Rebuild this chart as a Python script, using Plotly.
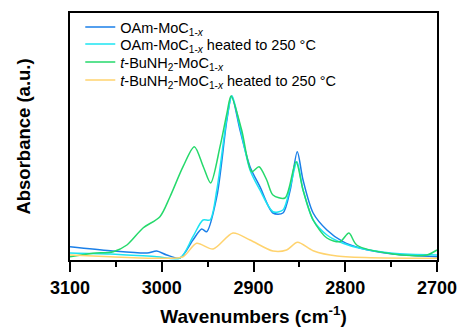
import plotly.graph_objects as go

# OAm-MoC1-x
wn_oam = [3100, 3056, 3016, 3005.5, 2994.6, 2980, 2966, 2956.5, 2951, 2940, 2929, 2923.8, 2914.7, 2903.8, 2893, 2878.8, 2867.9, 2860, 2852.3, 2846, 2835, 2820, 2802.5, 2784, 2748, 2700]
ab_oam = [13.3, 9.3, 7, 9, 5, 2, 20, 31, 28.3, 63.3, 140, 164, 130, 93.3, 73.3, 47, 47, 70, 108.3, 80, 47, 30, 18.3, 12, 6, 3.3]

# OAm-MoC1-x heated to 250 C
wn_oam_h = [3100, 3056, 3005.5, 2980, 2966, 2955, 2947.4, 2940, 2929, 2923.4, 2914.7, 2903.8, 2893, 2878.8, 2867.9, 2860, 2852.6, 2846, 2835, 2820, 2802.5, 2784, 2748, 2700]
ab_oam_h = [7, 6, 3.3, 2, 23.3, 40, 40, 70, 142, 164, 133, 90, 70, 48.3, 50, 73, 98.3, 70, 40, 25, 16.7, 11.7, 6.7, 5]

# t-BuNH2-MoC1-x
wn_tbu = [3100, 3075, 3052.8, 3038, 3020.4, 3002, 2991, 2976.8, 2964.5, 2954.7, 2946.7, 2936.5, 2929, 2924.5, 2912.9, 2902, 2894, 2885.6, 2878.8, 2865.7, 2853.7, 2846, 2835, 2820, 2805.7, 2796, 2787.5, 2748, 2711, 2700]
ab_tbu = [3.3, 6.7, 8.3, 15, 32, 43.3, 63.3, 93.3, 113.3, 93.3, 77, 113.3, 146.7, 164, 130, 88.3, 93.3, 80, 65, 62, 98.3, 70, 40, 22, 18.3, 27, 15, 6, 5, 10]

# t-BuNH2-MoC1-x heated to 250 C
wn_tbu_h = [3100, 3056, 3002, 2976.8, 2962, 2944, 2922.4, 2903.8, 2878.8, 2864, 2852, 2835, 2809, 2700]
ab_tbu_h = [5, 3.3, 1.7, 3.3, 16.7, 11, 27, 20, 9, 10, 17.7, 9.3, 4, 1.7]

names = [
    "OAm-MoC<sub>1-<i>x</i></sub>",
    "OAm-MoC<sub>1-<i>x</i></sub> heated to 250 °C",
    "<i>t</i>-BuNH<sub>2</sub>-MoC<sub>1-<i>x</i></sub>",
    "<i>t</i>-BuNH<sub>2</sub>-MoC<sub>1-<i>x</i></sub> heated to 250 °C",
]
colors = ["#1a7fe8", "#1de4f2", "#25d96b", "#ffd36e"]
series = [(wn_oam, ab_oam), (wn_oam_h, ab_oam_h), (wn_tbu, ab_tbu), (wn_tbu_h, ab_tbu_h)]

tick_vals = [3100, 3000, 2900, 2800, 2700]
tick_text = ["3100", "3000", "2900", "2800", "2700"]
minor_vals = [3050, 2950, 2850, 2750]

font_family = "Arial, Liberation Sans, sans-serif"
legend_ids = ["legend", "legend2", "legend3", "legend4"]
legend_rows = [0.943, 0.8745, 0.8016, 0.7287]

fig = go.Figure()
for (x, y), n, c, lid in zip(series, names, colors, legend_ids):
    fig.add_trace(go.Scatter(x=x, y=y, mode="lines", name=n, legend=lid,
                             line=dict(color=c, width=1.5, shape="spline", smoothing=0.8)))

legend_layout = {}
for lid, ly in zip(legend_ids, legend_rows):
    legend_layout[lid] = dict(x=0.028, y=ly, xanchor="left", yanchor="middle",
                              bgcolor="rgba(0,0,0,0)", borderwidth=0,
                              font=dict(size=14.5, family=font_family))

fig.update_layout(
    width=457, height=327,
    margin=dict(l=70, r=20, t=13, b=67, autoexpand=False),
    plot_bgcolor="white", paper_bgcolor="white",
    font=dict(family=font_family, color="black"),
    showlegend=True,
    xaxis=dict(range=[3100, 2700], showgrid=False, zeroline=False, automargin=False,
               showline=True, linecolor="black", linewidth=2, mirror=True,
               ticks="outside", ticklen=10, tickwidth=2, tickcolor="black",
               tickvals=tick_vals, ticktext=tick_text, ticklabeloverflow="allow",
               tickfont=dict(size=18, family=font_family, weight="bold"),
               minor=dict(tickvals=minor_vals, ticks="outside", ticklen=5, tickwidth=2, tickcolor="black"),
               title=dict(text="Wavenumbers (cm<sup>-1</sup>)", standoff=22,
                          font=dict(size=19, family=font_family, weight="bold"))),
    yaxis=dict(range=[0, 247], showgrid=False, zeroline=False, automargin=False,
               showline=True, linecolor="black", linewidth=2, mirror=True,
               showticklabels=False, ticks="",
               title=dict(text="Absorbance (a.u.)", standoff=33,
                          font=dict(size=18.5, family=font_family, weight="bold"))),
    **legend_layout,
)

fig.write_html("out.html", config={"displayModeBar": False},
               post_script="document.body.style.margin='0';document.body.style.overflow='hidden';")
